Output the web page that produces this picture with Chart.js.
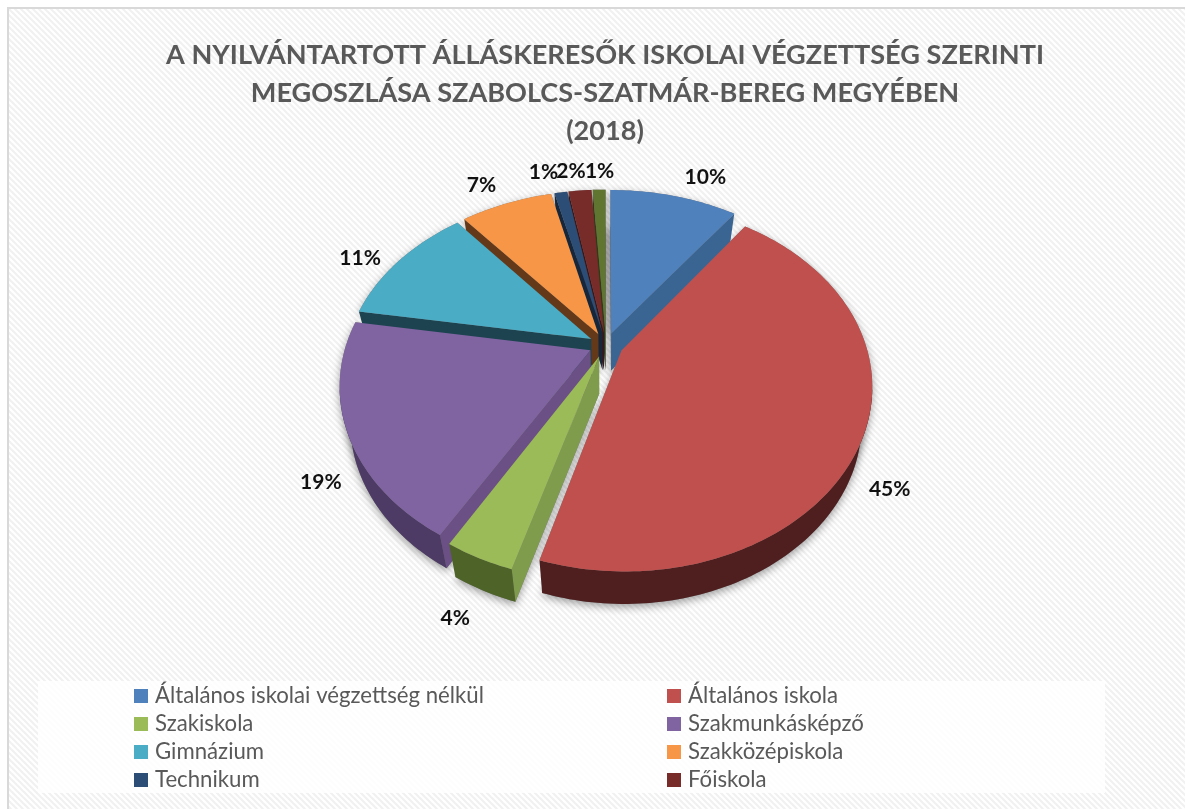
<!DOCTYPE html>
<html><head><meta charset="utf-8">
<style>html,body{margin:0;padding:0;background:#fff}canvas{display:block}</style>
<script src="https://cdn.jsdelivr.net/npm/chart.js@4/dist/chart.umd.min.js"></script>
</head><body><canvas id="c" width="1185" height="809"></canvas>
<script>
const titleLines = ["A NYILVÁNTARTOTT ÁLLÁSKERESŐK ISKOLAI VÉGZETTSÉG SZERINTI","MEGOSZLÁSA SZABOLCS-SZATMÁR-BEREG MEGYÉBEN","(2018)"];
const categories = ["Általános iskolai végzettség nélkül","Általános iskola","Szakiskola","Szakmunkásképző","Gimnázium","Szakközépiskola","Technikum","Főiskola","Egyetem"];
const shares = [10.0,44.6,3.8,19.2,11.4,7.2,1.0,1.8,1.0];
const topColors = ["#4F81BD","#C0504D","#9BBB59","#8064A2","#4BACC6","#F79646","#2C4D75","#772C2A","#5F7530"];
const radialColors = ["#3A6592","#8a3a38","#7F9C4C","#6A5084","#1D4350","#63391A","#16263B","#3B1615","#2F3A18"];
const outerColors = ["#2f4a6d","#4F1F1F","#4E6328","#4D3B65","#1D4350","#63391A","#16263B","#3B1615","#2F3A18"];
const legendCount = 8;

// view geometry of the tilted pie
const VIEW = {cx:606,cy:345,rx:244.5,ry:175.5,ky:0.195,kx:0.185,explode:0.07,depth:37,taper:0.04};
const labelNudge = [[26,-7],[0,6],[-9,-2],[0,3],[-22,5],[-17,-7],[-14,-9],[-7,-8],[1,-7]];

function project(u,v){return {x:VIEW.cx+VIEW.rx*u/(1-VIEW.kx*v),y:VIEW.cy+VIEW.ry*v/(1-VIEW.ky*v)};}
function planar(a,r,mid){const e=VIEW.explode;return {u:r*Math.sin(a)+e*Math.sin(mid),v:-r*Math.cos(a)-e*Math.cos(mid)};}
function pt(a,r,mid){const p=planar(a,r,mid);return project(p.u,p.v);}
function down(p){return {x:p.x-(p.x-VIEW.cx)*VIEW.taper,y:p.y+VIEW.depth-Math.max(0,p.y-VIEW.cy)*0.02};}
function poly(ctx,pts,fill){ctx.beginPath();pts.forEach((p,i)=>i?ctx.lineTo(p.x,p.y):ctx.moveTo(p.x,p.y));ctx.closePath();ctx.fillStyle=fill;ctx.fill();}

const backdrop = {id:'backdrop',beforeDraw(chart){
  const ctx=chart.ctx;
  ctx.save();
  ctx.fillStyle='#fff';ctx.fillRect(0,0,1185,809);
  const off=document.createElement('canvas');off.width=6;off.height=6;
  const o=off.getContext('2d');o.fillStyle='#fff';o.fillRect(0,0,6,6);
  o.strokeStyle='#f1f1f1';o.lineWidth=2.2;
  [[-6,-6,6,6],[-6,0,6,12],[0,-6,12,6]].forEach(l=>{o.beginPath();o.moveTo(l[0],l[1]);o.lineTo(l[2],l[3]);o.stroke();});
  ctx.fillStyle=ctx.createPattern(off,'repeat');
  ctx.fillRect(8,8,1177,801);
  ctx.fillStyle='#d9d9d9';ctx.fillRect(7,7,1178,2);ctx.fillRect(7,7,2,802);
  ctx.fillStyle='rgba(255,255,255,0.82)';ctx.fillRect(38,681,1067,112);
  ctx.restore();
}};

const pie3d = {id:'pie3d',
 beforeDatasetDraw(chart,args){
  const ctx=chart.ctx,meta=args.meta;
  const sl=meta.data.map((el,i)=>{
    const a0=el.startAngle+Math.PI/2,a1=el.endAngle+Math.PI/2,mid=(a0+a1)/2;
    const n=Math.max(2,Math.ceil((a1-a0)/0.02));const arc=[];
    for(let j=0;j<=n;j++)arc.push(pt(a0+(a1-a0)*j/n,1,mid));
    return {i,a0,a1,mid,arc,apex:pt(0,0,mid)};
  });
  sl.sort((s,t)=>(-Math.cos(s.mid))-(-Math.cos(t.mid)));
  ctx.save();
  ctx.shadowColor='rgba(0,0,0,0.38)';ctx.shadowBlur=9;ctx.shadowOffsetY=3;
  sl.forEach(s=>{poly(ctx,[s.apex,...s.arc],'#777');poly(ctx,[down(s.apex),...s.arc.map(down)],'#777');});
  ctx.shadowColor='transparent';ctx.shadowBlur=0;ctx.shadowOffsetY=0;
  sl.forEach(s=>{
    const c=s.i,m=pt(s.mid,0.6,s.mid);
    [s.arc[0],s.arc[s.arc.length-1]].forEach(p=>{
      const dx=p.x-s.apex.x,dy=p.y-s.apex.y;let nx=-dy,ny=dx;
      if(nx*(m.x-s.apex.x)+ny*(m.y-s.apex.y)>0){nx=-nx;ny=-ny;}
      if(ny>0)poly(ctx,[s.apex,p,down(p),down(s.apex)],radialColors[c]);
    });
    // curved wall: the part of the rim that faces the viewer, as one polygon
    const vis=[];
    for(let j=0;j<s.arc.length;j++){
      const prev=s.arc[Math.max(0,j-1)],next=s.arc[Math.min(s.arc.length-1,j+1)];
      if(next.x<prev.x)vis.push(s.arc[j]);
    }
    if(vis.length>1)poly(ctx,[...vis,...vis.slice().reverse().map(down)],outerColors[c]);
    poly(ctx,[s.apex,...s.arc],topColors[c]);
  });
  ctx.restore();
  ctx.save();
  ctx.font='bold 21px Lato';ctx.fillStyle='#111';ctx.textAlign='center';ctx.textBaseline='middle';
  meta.data.forEach((el,i)=>{
    const a0=el.startAngle+Math.PI/2,a1=el.endAngle+Math.PI/2,mid=(a0+a1)/2;
    const p=pt(mid,1.1,mid),front=Math.max(0,-Math.cos(mid));
    ctx.fillText(Math.round(shares[i])+'%',p.x+labelNudge[i][0],p.y+labelNudge[i][1]+VIEW.depth*Math.min(1,front*2.5));
  });
  ctx.restore();
  return false;
 },
 afterDraw(chart){
  const ctx=chart.ctx;ctx.save();
  ctx.font='22.2px Lato';ctx.textBaseline='middle';
  for(let i=0;i<legendCount;i++){
    const col=i%2,row=(i-col)/2,x=col?667:134,y=696+row*28;
    ctx.fillStyle=topColors[i];ctx.fillRect(x,y-7,14,14);
    ctx.fillStyle='#595959';ctx.fillText(categories[i],x+21,y);
  }
  ctx.restore();
 }};

new Chart(document.getElementById('c'),{
  type:'pie',
  data:{labels:categories,datasets:[{data:shares,backgroundColor:topColors,borderWidth:0}]},
  plugins:[backdrop,pie3d],
  options:{
    responsive:false,animation:false,
    layout:{padding:{left:25,top:36,right:0,bottom:40}},
    plugins:{
      legend:{display:false},tooltip:{enabled:false},
      title:{display:true,text:titleLines,color:'#595959',font:{family:'Lato',size:27.1,weight:'bold',lineHeight:1.4},padding:0}
    }
  }
});
</script></body></html>
